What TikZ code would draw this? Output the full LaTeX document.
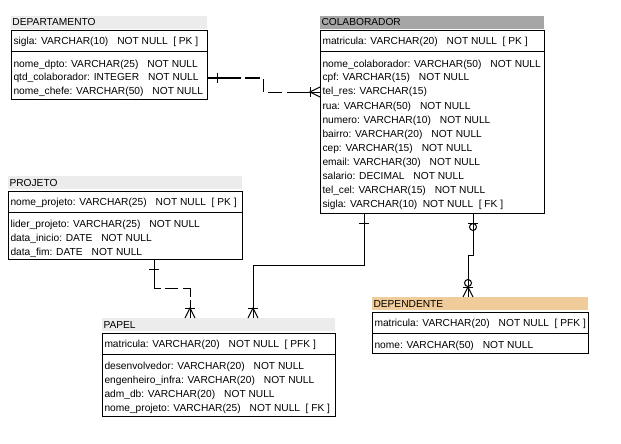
\documentclass[tikz,border=0pt]{standalone}
\usepackage{fontspec}
\setmainfont{Liberation Sans}
\usepackage{tikz}
\usetikzlibrary{calc}
\definecolor{bandLight}{RGB}{236,236,236}
\definecolor{bandDark}{RGB}{166,166,166}
\definecolor{bandTan}{RGB}{239,204,153}
\newcommand{\gapType}{\hspace{9pt}}
\newcommand{\gapKey}{\hspace{5.5pt}}
\newcommand{\drawTable}[9]{
    % #1 name, #2 x, #3 y, #4 width, #5 height, #6 title, #7 band colour, #8 key row, #9 rows
    \node[tabband,fill=#7,minimum width=#4] (#1-band) at (#2,#3-2) {};
    \node[tabtext] (#1-title) at (#2+1,#3-5) {#6};
    \node[tabbox,minimum width=#4,minimum height=#5] (#1) at (#2,#3) {};
    \draw (#2,#3+21) -- (#2+#4,#3+21);
    \node[tabtext] (#1-key) at (#2+2,#3+14) {#8};
    \foreach \row [count=\i from 0] in {#9}
        \node[tabtext] (#1-\i) at (#2+2,#3+36+14*\i) {\row};
}
\newcommand{\drawOneMark}[2]{
    \begin{scope}[shift={(#1)},rotate=#2]
        \draw (10,-5) -- (10,5);
    \end{scope}
}
\newcommand{\drawManyMark}[2]{
    \begin{scope}[shift={(#1)},rotate=#2]
        \draw (10,-5) -- (10,5);
        \draw (0,-5) -- (10,0) -- (0,5);
    \end{scope}
}
\newcommand{\drawZeroMark}[2]{
    \begin{scope}[shift={(#1)},rotate=#2]
        \draw (14,0) circle (3.5);
    \end{scope}
}

\begin{document}
\begin{tikzpicture}[x=1pt,y=-1pt,line width=1pt,
    tabbox/.style={draw,anchor=north west,inner sep=0pt,outer sep=0pt},
    tabband/.style={anchor=south west,inner sep=0pt,outer sep=0pt,minimum height=13pt},
    tabtext/.style={anchor=base west,inner sep=0pt,font=\fontsize{10.2}{12}\selectfont}]

    \useasboundingbox (0,0) rectangle (621,444);

    % --- Tables ---
    \drawTable{depto}{11}{31}{196}{68}{DEPARTAMENTO}{bandLight}
        {sigla: VARCHAR(10)\gapType NOT NULL\gapKey [ PK ]}
        {nome\_dpto: VARCHAR(25)\gapType NOT NULL,
         qtd\_colaborador: INTEGER\gapType NOT NULL,
         nome\_chefe: VARCHAR(50)\gapType NOT NULL}

    \drawTable{colab}{320}{31}{224}{182}{COLABORADOR}{bandDark}
        {matricula: VARCHAR(20)\gapType NOT NULL\gapKey [ PK ]}
        {nome\_colaborador: VARCHAR(50)\gapType NOT NULL,
         cpf: VARCHAR(15)\gapType NOT NULL,
         tel\_res: VARCHAR(15),
         rua: VARCHAR(50)\gapType NOT NULL,
         numero: VARCHAR(10)\gapType NOT NULL,
         bairro: VARCHAR(20)\gapType NOT NULL,
         cep: VARCHAR(15)\gapType NOT NULL,
         email: VARCHAR(30)\gapType NOT NULL,
         salario: DECIMAL\gapType NOT NULL,
         tel\_cel: VARCHAR(15)\gapType NOT NULL,
         sigla: VARCHAR(10)\gapKey NOT NULL\gapKey [ FK ]}

    \drawTable{projeto}{8}{191}{234}{68}{PROJETO}{bandLight}
        {nome\_projeto: VARCHAR(25)\gapType NOT NULL\gapKey [ PK ]}
        {lider\_projeto: VARCHAR(25)\gapType NOT NULL,
         data\_inicio: DATE\gapType NOT NULL,
         data\_fim: DATE\gapType NOT NULL}

    \drawTable{papel}{102}{333}{233}{83}{PAPEL}{bandLight}
        {matricula: VARCHAR(20)\gapType NOT NULL\gapKey [ PFK ]}
        {desenvolvedor: VARCHAR(20)\gapType NOT NULL,
         engenheiro\_infra: VARCHAR(20)\gapType NOT NULL,
         adm\_db: VARCHAR(20)\gapType NOT NULL,
         nome\_projeto: VARCHAR(25)\gapType NOT NULL\gapKey [ FK ]}

    \drawTable{dependente}{372}{312}{216}{41}{DEPENDENTE}{bandTan}
        {matricula: VARCHAR(20)\gapType NOT NULL\gapKey [ PFK ]}
        {nome: VARCHAR(50)\gapType NOT NULL}

    % --- Relationships ---
    % departamento - colaborador
    \coordinate (deptoR) at ($(depto.north east)+(0,47)$);
    \coordinate (colabL) at ($(colab.north west)+(0,61)$);
    \coordinate (bend) at (263,0);
    \draw[dash pattern=on 34pt off 4pt on 15pt off 4pt on 13pt off 5pt on 14pt off 5pt on 40pt]
        (deptoR) -- (deptoR -| bend) -- (colabL -| bend) -- (colabL);
    \drawOneMark{deptoR}{0}
    \drawManyMark{colabL}{180}

    % projeto - papel
    \coordinate (projetoB) at ($(projeto.south west)+(146,0)$);
    \coordinate (papelT1) at ($(papel-band.north west)+(88,0)$);
    \draw[dash pattern=on 36pt off 4pt on 13pt off 5pt on 16pt off 3pt on 40pt]
        (projetoB) -- ++(0,29) -| (papelT1);
    \drawOneMark{projetoB}{-90}
    \drawManyMark{papelT1}{90}

    % colaborador - papel
    \coordinate (colabB1) at ($(colab.south west)+(44,0)$);
    \coordinate (papelT2) at ($(papel-band.north west)+(151,0)$);
    \draw (colabB1) -- ++(0,52) -| (papelT2);
    \drawOneMark{colabB1}{-90}
    \drawManyMark{papelT2}{90}

    % colaborador - dependente
    \coordinate (colabB2) at ($(colab.south west)+(153,0)$);
    \coordinate (dependenteT) at ($(dependente-band.north west)+(96,0)$);
    \draw (colabB2) -- ++(0,42) -| (dependenteT);
    \drawOneMark{colabB2}{-90}
    \drawZeroMark{colabB2}{-90}
    \drawManyMark{dependenteT}{90}
    \drawZeroMark{dependenteT}{90}

\end{tikzpicture}
\end{document}
